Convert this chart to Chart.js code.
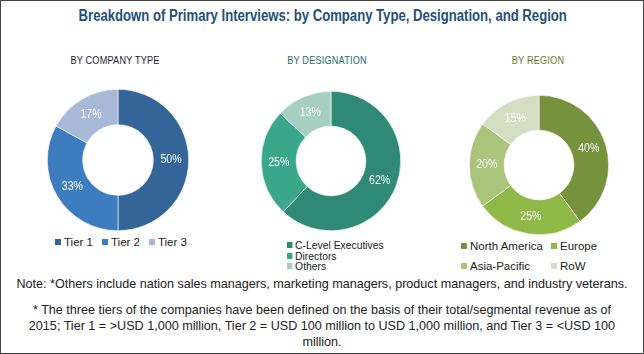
<!DOCTYPE html>
<html>
<head>
<meta charset="utf-8">
<script src="https://cdn.jsdelivr.net/npm/chart.js@4"></script>
<style>
  html,body{margin:0;padding:0;background:#fff;}
  body{width:644px;height:354px;position:relative;overflow:hidden;font-family:"Liberation Sans",sans-serif;}
  #frame{position:absolute;left:0;top:0;width:642px;height:352px;border:1px solid #444;}
  .abs{position:absolute;}
  #title{left:0;width:644px;top:7px;text-align:center;font-weight:bold;font-size:16px;color:#1f5078;transform:scaleX(0.82);transform-origin:326px 0;}
  .sub{top:54px;font-size:11.5px;letter-spacing:0.2px;text-align:center;width:160px;transform:scaleX(0.8);}
  canvas{position:absolute;}
  .leg{font-size:11.5px;color:#222;white-space:nowrap;}
  .leg .sw{display:inline-block;width:6px;height:6px;margin-right:3px;vertical-align:1px;}
  .note{left:0;width:644px;text-align:center;font-size:12.6px;color:#222;line-height:16px;}
</style>
</head>
<body>
<div id="frame"></div>
<div id="title" class="abs">Breakdown of Primary Interviews: by Company Type, Designation, and Region</div>
<div class="abs sub" style="left:35px;color:#1e2333;">BY COMPANY TYPE</div>
<div class="abs sub" style="left:247px;color:#2b6a69;">BY DESIGNATION</div>
<div class="abs sub" style="left:458px;color:#6b7a2c;">BY REGION</div>
<canvas id="c1" width="142" height="142" style="left:47px;top:89px;"></canvas>
<canvas id="c2" width="140" height="140" style="left:261px;top:91px;"></canvas>
<canvas id="c3" width="140" height="140" style="left:469px;top:95px;"></canvas>
<div id="leg1" class="abs leg" style="left:55px;top:236px;"></div>
<div id="leg2" class="abs leg" style="left:287px;top:240px;line-height:10.5px;transform:scaleX(0.9);transform-origin:0 0;"></div>
<div id="leg3" class="abs leg" style="left:461px;top:240px;"></div>
<div class="abs note" style="top:276px;">Note: *Others include nation sales managers, marketing managers, product managers, and industry veterans.</div>
<div class="abs note" style="top:302px;">* The three tiers of the companies have been defined on the basis of their total/segmental revenue as of<br>2015; Tier 1 = &gt;USD 1,000 million, Tier 2 = USD 100 million to USD 1,000 million, and Tier 3 = &lt;USD 100<br>million.</div>
<script>
const companyLabels = ["Tier 1", "Tier 2", "Tier 3"];
const companyValues = [50, 33, 17];
const designationLabels = ["C-Level Executives", "Directors", "Others"];
const designationValues = [62, 25, 13];
const regionLabels = ["North America", "Europe", "Asia-Pacific", "RoW"];
const regionValues = [40, 25, 20, 15];

const companyColors = ["#336599", "#3d7dbf", "#a7b9d7"];
const designationColors = ["#2e8a76", "#3aa68c", "#a6cfc1"];
const regionColors = ["#76923c", "#8fb847", "#aac47c", "#d4dec3"];

const pctLabels = {
  id: "pctLabels",
  afterDatasetsDraw(chart) {
    const ctx = chart.ctx;
    const meta = chart.getDatasetMeta(0);
    const data = chart.data.datasets[0].data;
    ctx.save();
    ctx.fillStyle = "#ffffff";
    ctx.font = '12px "Liberation Sans", sans-serif';
    ctx.textAlign = "center";
    ctx.textBaseline = "middle";
    meta.data.forEach((arc, i) => {
      const p = arc.tooltipPosition();
      ctx.save();
      ctx.translate(p.x, p.y);
      ctx.scale(0.88, 1);
      ctx.fillText(data[i] + "%", 0, 0);
      ctx.restore();
    });
    ctx.restore();
  }
};

function donut(id, labels, values, colors) {
  return new Chart(document.getElementById(id), {
    type: "doughnut",
    data: { labels: labels, datasets: [{ data: values, backgroundColor: colors, borderColor: "#ffffff", borderWidth: 0.6 }] },
    options: {
      responsive: false,
      animation: false,
      cutout: "50%",
      devicePixelRatio: 1,
      plugins: { legend: { display: false }, tooltip: { enabled: false } }
    },
    plugins: [pctLabels]
  });
}
donut("c1", companyLabels, companyValues, companyColors);
donut("c2", designationLabels, designationValues, designationColors);
donut("c3", regionLabels, regionValues, regionColors);

function item(label, color) {
  return '<span class="sw" style="background:' + color + '"></span>' + label;
}
document.getElementById("leg1").innerHTML = companyLabels.map((l, i) =>
  '<span style="margin-right:9px">' + item(l, companyColors[i]) + '</span>').join("");
document.getElementById("leg2").innerHTML = designationLabels.map((l, i) =>
  '<div>' + item(l, designationColors[i]) + '</div>').join("");
document.getElementById("leg3").innerHTML = regionLabels.map((l, i) =>
  '<div style="position:absolute;left:' + (i % 2 ? 90 : 0) + 'px;top:' + (i < 2 ? 0 : 20) + 'px;">' + item(l, regionColors[i]) + '</div>').join("");
</script>
</body>
</html>
